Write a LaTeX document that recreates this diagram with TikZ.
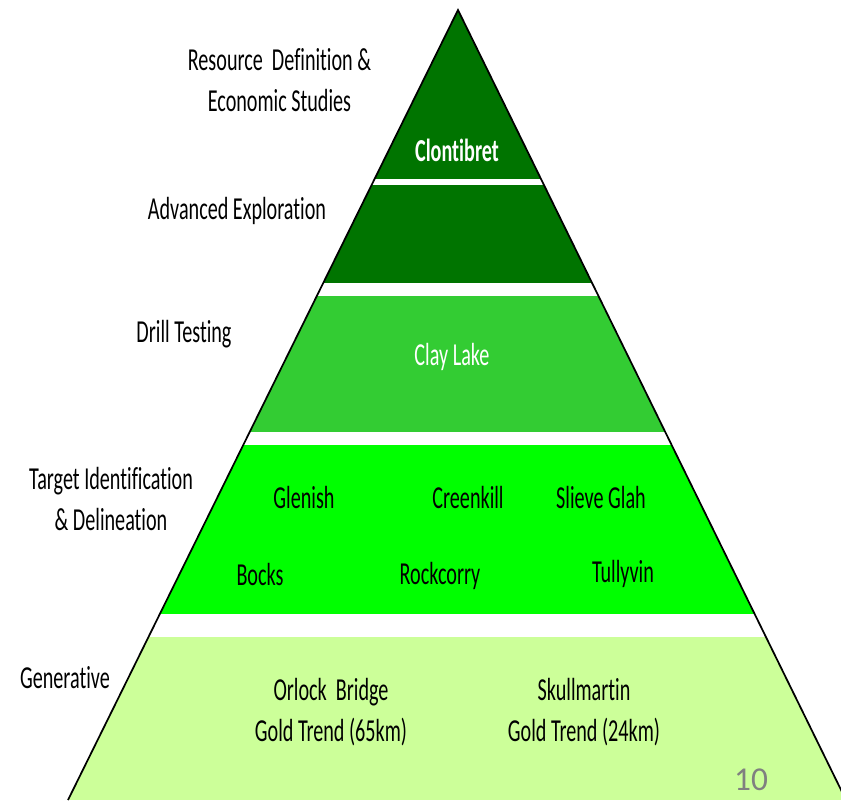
\documentclass[tikz,border=0pt]{standalone}
\usepackage{fontspec}
\setmainfont{Carlito}[FakeStretch=0.63, Ligatures=NoCommon]
\newfontfamily\numfont{Carlito}
\definecolor{dkgreen}{RGB}{0,116,0}
\definecolor{midgreen}{RGB}{51,204,51}
\definecolor{limegreen}{RGB}{0,255,0}
\definecolor{palegreen}{RGB}{204,255,153}
\definecolor{pagegray}{RGB}{128,128,128}
\begin{document}
\begin{tikzpicture}[x=0.75pt,y=-0.75pt,
  lbl/.style={font=\fontsize{24}{30.75}\selectfont, align=center, inner sep=0pt, text=black},
  wlbl/.style={lbl, text=white}]
\useasboundingbox (0,0) rectangle (841,800);
\coordinate (apex) at (458,10);
\coordinate (bl) at (68,800);
\coordinate (br) at (846,800);
\begin{scope}
  \clip (apex) -- (bl) -- (br) -- cycle;
  \fill[dkgreen] (0,0) rectangle (841,179);
  \fill[dkgreen] (0,185) rectangle (841,283);
  \fill[midgreen] (0,296) rectangle (841,432);
  \fill[limegreen] (0,445) rectangle (841,614);
  \fill[palegreen] (0,637) rectangle (860,800);
\end{scope}
\draw[line width=1.3pt, line join=miter] (bl) -- (apex) -- (br);

\node[lbl] (l1) at (279.5,80.5) {Resource\ \ Definition \&\\Economic Studies};
\node[lbl] (l2) at (237,211) {Advanced Exploration};
\node[lbl] (l3) at (184,334) {Drill Testing};
\node[lbl] (l4) at (111,499) {Target Identification\\\& Delineation};
\node[lbl] (l5) at (65,678) {Generative};

\node[wlbl, font=\fontsize{24}{30.75}\selectfont\bfseries] (clon) at (457,150) {Clontibret};
\node[wlbl] (clay) at (452,357) {Clay Lake};

\node[lbl] (glen) at (304,497) {Glenish};
\node[lbl] (cree) at (468,497) {Creenkill};
\node[lbl] (slie) at (601,497) {Slieve Glah};
\node[lbl] (bock) at (260,574) {Bocks};
\node[lbl] (rock) at (440,576) {Rockcorry};
\node[lbl] (tull) at (623,574) {Tullyvin};

\node[lbl] (orl) at (331,712) {Orlock\ \ Bridge\\Gold Trend (65km)};
\node[lbl] (sku) at (584,712) {Skullmartin\\Gold Trend (24km)};

\node[inner sep=0pt, text=pagegray, font=\numfont\fontsize{25}{30}\selectfont] (pg) at (751,780) {10};
\end{tikzpicture}
\end{document}
